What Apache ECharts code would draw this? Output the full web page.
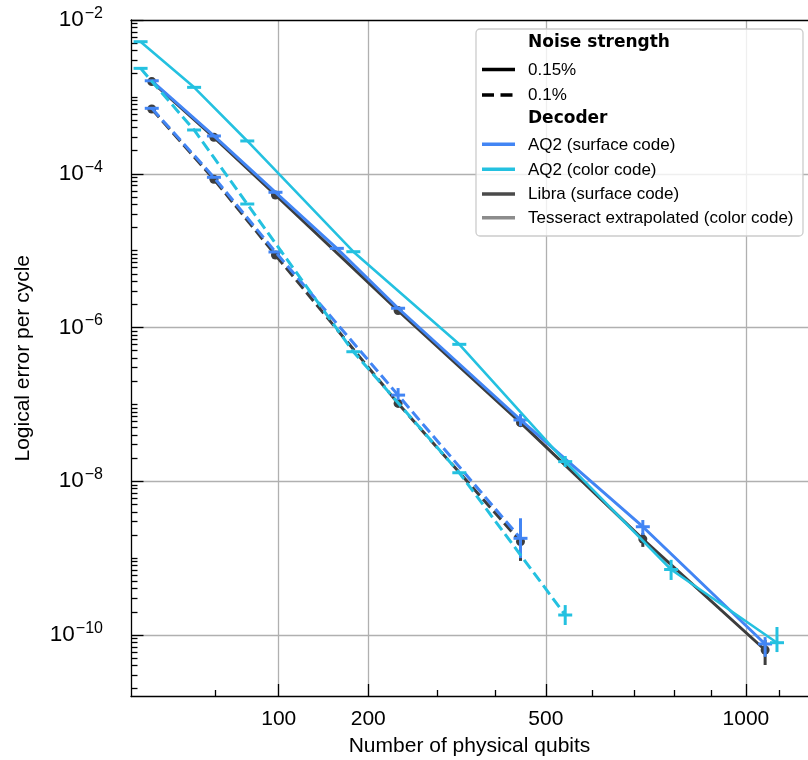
<!DOCTYPE html>
<html>
<head>
<meta charset="utf-8">
<script src="https://cdn.jsdelivr.net/npm/echarts@6/dist/echarts.min.js"></script>
<style>
  html, body { margin: 0; padding: 0; background: #fff; }
  #chart { width: 808px; height: 760px; }
</style>
</head>
<body>
<div id="chart"></div>
<script>
// ---- Data: logical error per cycle vs. number of physical qubits ----
// Noise strength 0.15% (solid) and 0.1% (dashed)

// AQ2 decoder, surface code
const aq2SurfaceQubitsHigh = [17, 49, 97, 161, 241, 449, 721, 1057];
const aq2SurfaceHigh = [1.62e-3, 3.10e-4, 5.74e-5, 1.07e-5, 1.78e-6, 6.27e-8, 2.56e-9, 7.64e-11];
const aq2SurfaceQubitsLow = [17, 49, 97, 241, 449];
const aq2SurfaceLow = [7.10e-4, 8.99e-5, 9.6e-6, 1.32e-7, 1.81e-9];

// AQ2 decoder, color code
const aq2ColorQubitsHigh = [13, 37, 73, 181, 337, 541, 793, 1093];
const aq2ColorHigh = [5.22e-3, 1.33e-3, 2.67e-4, 9.68e-6, 6.04e-7, 1.80e-8, 7.11e-10, 7.94e-11];
const aq2ColorQubitsLow = [13, 37, 73, 181, 337, 541];
const aq2ColorLow = [2.35e-3, 3.71e-4, 4.04e-5, 4.84e-7, 1.29e-8, 1.82e-10];

// Libra decoder, surface code
const libraQubitsHigh = [17, 49, 97, 241, 449, 721, 1057];
const libraHigh = [1.58e-3, 2.98e-4, 5.29e-5, 1.66e-6, 5.78e-8, 1.77e-9, 6.38e-11];
const libraQubitsLow = [17, 49, 97, 241, 449];
const libraLow = [6.95e-4, 8.47e-5, 8.77e-6, 1.03e-7, 1.64e-9];

// Error bars: [qubits, upper, lower]
const aq2SurfaceErrHigh = [[449, 7.5e-8, 5.2e-8], [721, 3.13e-9, 2.0e-9], [1057, 9.4e-11, 5.2e-11]];
const aq2SurfaceErrLow = [[241, 1.63e-7, 1.14e-7], [449, 3.3e-9, 1.0e-9]];
const aq2ColorErrHigh = [[541, 2.13e-8, 1.53e-8], [793, 9.5e-10, 5.2e-10], [1093, 1.27e-10, 6.0e-11]];
const aq2ColorErrLow = [[541, 2.45e-10, 1.35e-10]];
const libraErrHigh = [[721, 2.12e-9, 1.40e-9], [1057, 8.6e-11, 4.07e-11]];
const libraErrLow = [[449, 2.3e-9, 9.2e-10]];

// Axis ranges and tick labels
const qubitRange = [10, 1190];
const errorExpRange = [-10.8, -2];
const xMajorTicks = [100, 200, 500, 1000];
const xMinorTicks = [50, 300, 400, 600, 700, 800, 900, 1100];
const yLabelExponents = [-2, -4, -6, -8, -10];
const yGridExponents = [-4, -6, -8, -10];

const decoderNames = ['AQ2 (surface code)', 'AQ2 (color code)', 'Libra (surface code)', 'Tesseract extrapolated (color code)'];
const noiseNames = ['0.15%', '0.1%'];

// ---- Styling ----
const BLUE = '#4285f4';
const CYAN = '#24c1e0';
const DARK = '#3d3d3d';
const GRAY = '#8c8c8c';
const FONT = '"Liberation Sans", Arial, sans-serif';
const DASH = [11, 5];

// x axis is square-root scaled, y axis is log10 scaled
const sx = q => Math.sqrt(q);
const ly = v => Math.log10(v);
const pts = (qs, vs) => qs.map((q, i) => [sx(q), ly(vs[i])]);

// y minor ticks: k * 10^n, skipping the labelled powers
const yMinorTicks = [];
for (let n = -11; n <= -3; n++) {
  for (let k = 1; k <= 9; k++) {
    if (k === 1 && n % 2 === 0) continue;
    const v = Math.log10(k) + n;
    if (v > errorExpRange[0] && v < errorExpRange[1]) yMinorTicks.push(v);
  }
}

function lineSeries(name, data, color, dashed, symbol, z) {
  const isRect = symbol === 'rect';
  return {
    type: 'line',
    name: name,
    data: data,
    xAxisIndex: 0,
    yAxisIndex: 0,
    z: z,
    symbol: symbol,
    symbolSize: isRect ? [14, 3] : 9,
    showSymbol: true,
    itemStyle: { color: color },
    lineStyle: { color: color, width: dashed ? 3 : (color === CYAN ? 2.6 : 3), type: dashed ? DASH : 'solid', cap: 'butt' },
    emphasis: { disabled: true },
    silent: true,
    animation: false
  };
}

function errorSeries(errs, color, z) {
  return {
    type: 'custom',
    xAxisIndex: 0,
    yAxisIndex: 0,
    z: z,
    silent: true,
    animation: false,
    encode: { x: 0, y: [1, 2] },
    data: errs.map(e => [sx(e[0]), ly(e[1]), ly(e[2])]),
    renderItem: function (params, api) {
      const x = api.value(0);
      const p1 = api.coord([x, api.value(1)]);
      const p2 = api.coord([x, api.value(2)]);
      return {
        type: 'line',
        shape: { x1: p1[0], y1: p1[1], x2: p2[0], y2: p2[1] },
        style: { stroke: color, lineWidth: 3 }
      };
    }
  };
}

const chart = echarts.init(document.getElementById('chart'), null, { renderer: 'canvas' });

const xMin = sx(qubitRange[0]);
const xMax = sx(qubitRange[1]);
const tickStyle = { color: '#000', width: 1.3 };

// ---- Legend, drawn as graphic elements ----
const legendLeft = 476, legendTop = 29, legendW = 327, legendH = 207;
const lineX1 = 482, lineX2 = 515, textX = 528;
const legendRows = [
  { y: 42.8, text: 'Noise strength', header: true },
  { y: 70.8, text: noiseNames[0], color: '#000', dash: null, ly: 69.5, w: 3.5 },
  { y: 95.2, text: noiseNames[1], color: '#000', dash: [12, 6.5], ly: 95, w: 3.5 },
  { y: 118.7, text: 'Decoder', header: true },
  { y: 145, text: decoderNames[0], color: BLUE, dash: null, ly: 144.3, w: 3.5 },
  { y: 170.3, text: decoderNames[1], color: CYAN, dash: null, ly: 169.3, w: 3.5 },
  { y: 194.5, text: decoderNames[2], color: '#4a4a4a', dash: null, ly: 194, w: 3.5 },
  { y: 218.8, text: decoderNames[3], color: GRAY, dash: null, ly: 217.7, w: 3.5 }
];
const legendGraphics = [{
  type: 'rect',
  shape: { x: legendLeft, y: legendTop, width: legendW, height: legendH, r: 4 },
  style: { fill: 'rgba(255,255,255,0.8)', stroke: '#cccccc', lineWidth: 1.3 },
  z: 100
}];
legendRows.forEach(r => {
  if (r.header) {
    legendGraphics.push({
      type: 'text', z: 101,
      style: { x: textX, y: r.y, text: r.text, fill: '#000', font: 'bold 17px "DejaVu Sans", sans-serif', verticalAlign: 'middle', align: 'left' }
    });
  } else {
    legendGraphics.push({
      type: 'line', z: 101,
      shape: { x1: lineX1, y1: r.ly, x2: lineX2, y2: r.ly },
      style: { stroke: r.color, lineWidth: r.w, lineDash: r.dash || null, lineCap: 'butt' }
    });
    legendGraphics.push({
      type: 'text', z: 101,
      style: { x: textX, y: r.y, text: r.text, fill: '#000', font: '17px ' + FONT, verticalAlign: 'middle', align: 'left' }
    });
  }
});

const option = {
  backgroundColor: '#fff',
  animation: false,
  grid: { left: 131, top: 20, right: 0, bottom: 63.5, show: false, containLabel: false, outerBoundsMode: 'none' },
  xAxis: [
    {
      type: 'value', min: xMin, max: xMax, position: 'bottom',
      name: 'Number of physical qubits', nameLocation: 'middle', nameGap: 39,
      nameTextStyle: { fontFamily: FONT, fontSize: 21, color: '#000' },
      axisLine: { show: true, onZero: false, lineStyle: tickStyle },
      axisTick: { show: true, inside: true, length: 12.5, lineStyle: tickStyle, customValues: xMajorTicks.map(sx) },
      axisLabel: {
        customValues: xMajorTicks.map(sx), margin: 12,
        fontFamily: FONT, fontSize: 21, color: '#000',
        formatter: v => String(Math.round(v * v))
      },
      splitLine: { show: true, lineStyle: { color: '#b0b0b0', width: 1.3 } }
    },
    {
      type: 'value', min: xMin, max: xMax, position: 'bottom',
      axisLine: { show: false, onZero: false },
      axisTick: { show: true, inside: true, length: 6.5, lineStyle: tickStyle, customValues: xMinorTicks.map(sx) },
      axisLabel: { show: false, customValues: xMinorTicks.map(sx) },
      splitLine: { show: false }
    },
    {
      type: 'value', min: xMin, max: xMax, position: 'top', z: 10,
      axisLine: { show: true, onZero: false, lineStyle: tickStyle },
      axisTick: { show: false },
      axisLabel: { show: false },
      splitLine: { show: false }
    }
  ],
  yAxis: [
    {
      type: 'value', min: errorExpRange[0], max: errorExpRange[1], position: 'left',
      name: 'Logical error per cycle', nameLocation: 'middle', nameGap: 97,
      nameTextStyle: { fontFamily: FONT, fontSize: 21, color: '#000' },
      axisLine: { show: true, onZero: false, lineStyle: tickStyle },
      axisTick: { show: true, inside: true, length: 12.5, lineStyle: tickStyle, customValues: yLabelExponents },
      axisLabel: {
        customValues: yLabelExponents, margin: 28,
        formatter: v => '{b|10}{s|\u2212' + Math.abs(Math.round(v)) + '}',
        rich: {
          b: { fontFamily: FONT, fontSize: 22.5, color: '#000' },
          s: { fontFamily: FONT, fontSize: 16, color: '#000', padding: [0, 0, 13, 1] }
        }
      },
      splitLine: { show: false }
    },
    {
      type: 'value', min: errorExpRange[0], max: errorExpRange[1], position: 'left',
      axisLine: { show: false, onZero: false },
      axisTick: { show: true, inside: true, length: 6.5, lineStyle: tickStyle, customValues: yMinorTicks },
      axisLabel: { show: false, customValues: yMinorTicks },
      splitLine: { show: false }
    },
    {
      type: 'value', min: errorExpRange[0], max: errorExpRange[1], position: 'left',
      axisLine: { show: false, onZero: false },
      axisTick: { show: false, customValues: yGridExponents },
      axisLabel: { show: false, customValues: yGridExponents },
      splitLine: { show: true, lineStyle: { color: '#b0b0b0', width: 1.3 } }
    }
  ],
  series: [
    errorSeries(libraErrHigh, DARK, 2),
    errorSeries(libraErrLow, DARK, 2),
    lineSeries('Libra 0.15%', pts(libraQubitsHigh, libraHigh), DARK, false, 'circle', 2),
    lineSeries('Libra 0.1%', pts(libraQubitsLow, libraLow), DARK, true, 'circle', 2),
    errorSeries(aq2SurfaceErrHigh, BLUE, 3),
    errorSeries(aq2SurfaceErrLow, BLUE, 3),
    lineSeries('AQ2 surface 0.15%', pts(aq2SurfaceQubitsHigh, aq2SurfaceHigh), BLUE, false, 'rect', 3),
    lineSeries('AQ2 surface 0.1%', pts(aq2SurfaceQubitsLow, aq2SurfaceLow), BLUE, true, 'rect', 3),
    errorSeries(aq2ColorErrHigh, CYAN, 4),
    errorSeries(aq2ColorErrLow, CYAN, 4),
    lineSeries('AQ2 color 0.15%', pts(aq2ColorQubitsHigh, aq2ColorHigh), CYAN, false, 'rect', 4),
    lineSeries('AQ2 color 0.1%', pts(aq2ColorQubitsLow, aq2ColorLow), CYAN, true, 'rect', 4)
  ],
  graphic: legendGraphics
};

chart.setOption(option);
</script>
</body>
</html>
